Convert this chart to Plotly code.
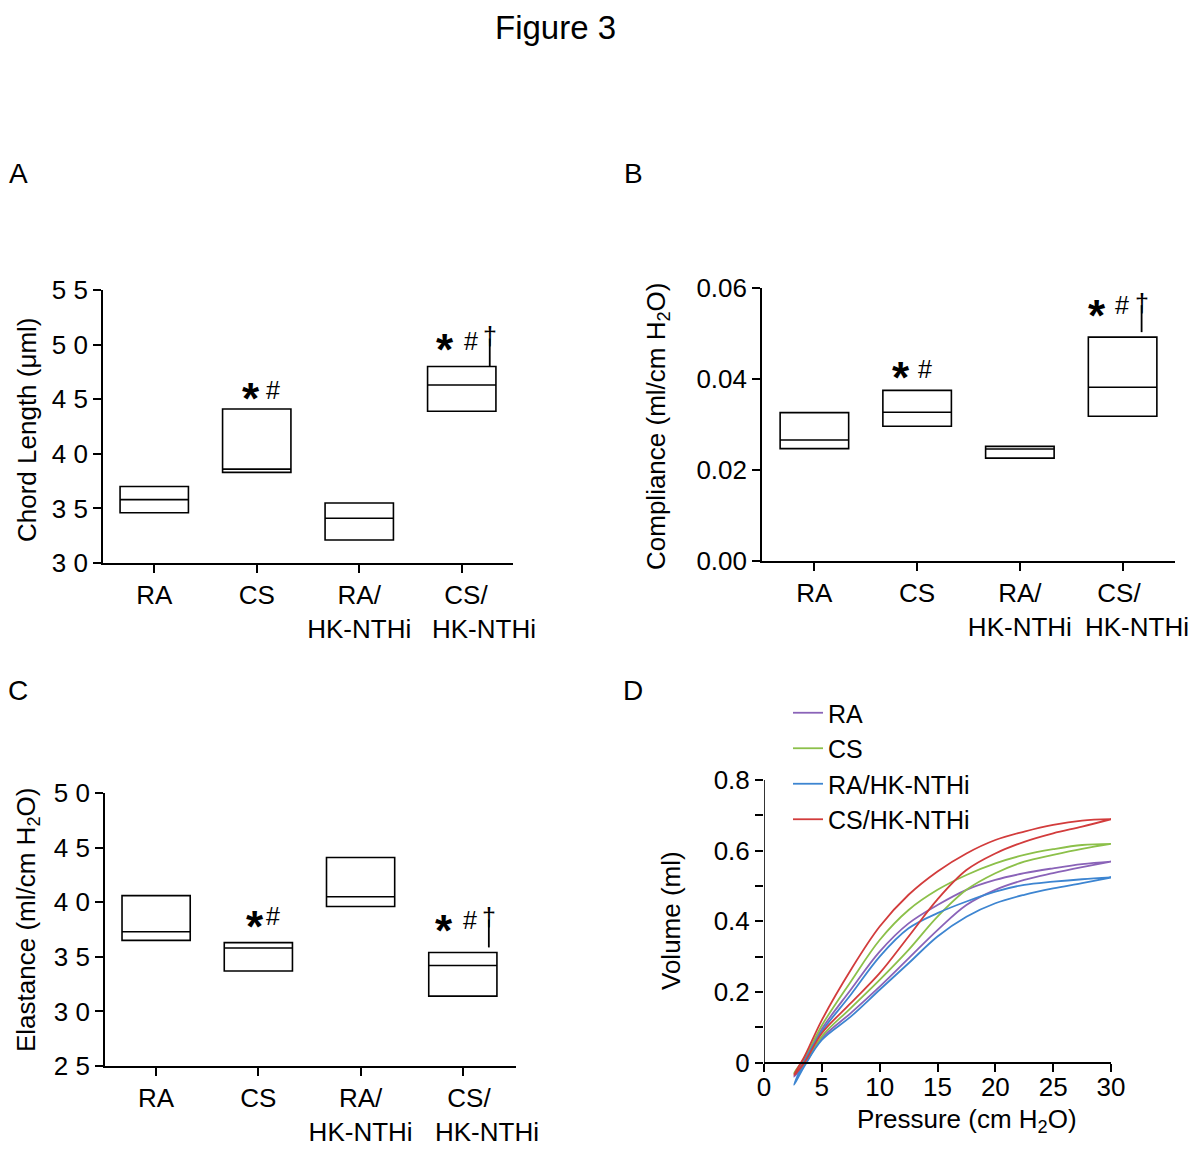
import plotly.graph_objects as go

# ---------------- data ----------------
groups = ["RA", "CS", "RA/HK-NTHi", "CS/HK-NTHi"]
group_line1 = ["RA", "CS", "RA/", "CS/"]
group_line2 = ["", "", "HK-NTHi", "HK-NTHi"]

# Panel A: chord length (q1, median, q3)
chord_q1 = [34.6, 38.3, 32.1, 43.9]
chord_med = [35.8, 38.6, 34.1, 46.3]
chord_q3 = [37.0, 44.1, 35.5, 48.0]
chord_ticks = [30, 35, 40, 45, 50, 55]
chord_ticktext = ["3 0", "3 5", "4 0", "4 5", "5 0", "5 5"]

# Panel B: compliance
comp_q1 = [0.0247, 0.0296, 0.0226, 0.0318]
comp_med = [0.0266, 0.0327, 0.0246, 0.0382]
comp_q3 = [0.0326, 0.0375, 0.0252, 0.0492]
comp_ticks = [0.0, 0.02, 0.04, 0.06]
comp_ticktext = ["0.00", "0.02", "0.04", "0.06"]

# Panel C: elastance
elast_q1 = [36.5, 33.7, 39.6, 31.4]
elast_med = [37.3, 35.8, 40.5, 34.2]
elast_q3 = [40.6, 36.3, 44.1, 35.4]
elast_ticks = [25, 30, 35, 40, 45, 50]
elast_ticktext = ["2 5", "3 0", "3 5", "4 0", "4 5", "5 0"]

# significance marks per group index
sig_A = {1: "*#", 3: "*#†"}
sig_B = {1: "*#", 3: "*#†"}
sig_C = {1: "*#", 3: "*#†"}

# Panel D: pressure-volume loops (inflation limb, deflation limb)
pressure = [2.6, 3.5, 5.0, 7.5, 10.0, 12.5, 15.0, 17.5, 20.0, 22.5, 25.0, 27.5, 30.0]
RA_infl = [-0.040, -0.005, 0.069, 0.140, 0.215, 0.295, 0.375, 0.446, 0.489, 0.517, 0.536, 0.553, 0.569]
RA_defl = [-0.040, 0.008, 0.095, 0.206, 0.314, 0.394, 0.446, 0.489, 0.517, 0.536, 0.550, 0.562, 0.569]
CS_infl = [-0.030, -0.005, 0.074, 0.154, 0.234, 0.319, 0.413, 0.489, 0.536, 0.569, 0.588, 0.605, 0.619]
CS_defl = [-0.030, 0.012, 0.105, 0.229, 0.347, 0.432, 0.489, 0.531, 0.564, 0.588, 0.604, 0.616, 0.619]
RAHK_infl = [-0.063, -0.010, 0.064, 0.130, 0.206, 0.281, 0.357, 0.413, 0.451, 0.475, 0.493, 0.508, 0.524]
RAHK_defl = [-0.063, 0.005, 0.088, 0.192, 0.300, 0.380, 0.423, 0.456, 0.484, 0.503, 0.512, 0.519, 0.524]
CSHK_infl = [-0.035, 0.000, 0.083, 0.168, 0.253, 0.357, 0.462, 0.545, 0.592, 0.625, 0.649, 0.668, 0.689]
CSHK_defl = [-0.035, 0.017, 0.120, 0.262, 0.385, 0.475, 0.541, 0.592, 0.630, 0.654, 0.673, 0.685, 0.689]
pv_series = [
    ("RA", RA_infl, RA_defl, "#8A63B8"),
    ("CS", CS_infl, CS_defl, "#8CC04A"),
    ("RA/HK-NTHi", RAHK_infl, RAHK_defl, "#3D85D1"),
    ("CS/HK-NTHi", CSHK_infl, CSHK_defl, "#D23C3C"),
]
vol_ticks = [0, 0.2, 0.4, 0.6, 0.8]
vol_ticktext = ["0", "0.2", "0.4", "0.6", "0.8"]
vol_minor = [0.1, 0.3, 0.5, 0.7]
pres_ticks = [0, 5, 10, 15, 20, 25, 30]

# ---------------- layout helpers ----------------
PAGE_OFF = 8                     # default body margin of the html page
W, H = 1200 - PAGE_OFF, 1150 - PAGE_OFF
FONT = "Liberation Sans, Arial, Helvetica, sans-serif"
FS = 26
NB = "\u00a0"


def px_x(p):
    return (p - PAGE_OFF) / W


def px_y(p):
    return 1 - (p - PAGE_OFF) / H


# the last category label sits right of its tick -> drawn as an annotation
shifted_idx = 3
first_line_pad = 5               # trailing nbsp on "CS/" so it sits left of "HK-NTHi" centre
label_shift = {"x": 22, "x2": 14, "x3": 24}   # px right of tick

fig = go.Figure()
xs = list(range(len(groups)))
label_vals = [i for i in xs if i != shifted_idx]
label_text = [group_line1[i] + ("<br>" + group_line2[i] if group_line2[i] else "")
              for i in label_vals]


def add_boxes(q1, med, q3, xa, ya):
    fig.add_trace(go.Box(
        x=xs, q1=q1, median=med, q3=q3, lowerfence=q1, upperfence=q3,
        width=0.667, whiskerwidth=0, fillcolor="white",
        line=dict(color="black", width=1.6), boxpoints=False,
        xaxis=xa, yaxis=ya, showlegend=False, hoverinfo="skip"))


add_boxes(chord_q1, chord_med, chord_q3, "x", "y")
add_boxes(comp_q1, comp_med, comp_q3, "x2", "y2")
add_boxes(elast_q1, elast_med, elast_q3, "x3", "y3")

for name, infl, defl, col in pv_series:
    fig.add_trace(go.Scatter(
        x=pressure + pressure[::-1], y=infl + defl[::-1], mode="lines",
        line=dict(color=col, width=1.8), name=name,
        xaxis="x4", yaxis="y4", line_shape="spline"))

axis_common = dict(showgrid=False, zeroline=False, showline=True, linecolor="black",
                   linewidth=1.6, ticks="outside", ticklen=8, tickwidth=1.6,
                   tickcolor="black", automargin=False, tickangle=0,
                   ticklabeloverflow="allow",
                   tickfont=dict(family=FONT, size=FS, color="black"))
minor_common = dict(ticks="outside", ticklen=8, tickwidth=1.6, tickcolor="black",
                    showgrid=False)

cat_axis = dict(axis_common, tickmode="array", tickvals=label_vals, ticktext=label_text,
                minor=dict(minor_common, tickvals=xs))

fig.update_layout(
    template="none",
    width=W, height=H, margin=dict(l=0, r=0, t=0, b=0, autoexpand=False),
    paper_bgcolor="white", plot_bgcolor="white",
    font=dict(family=FONT, size=FS, color="black"),
    xaxis=dict(cat_axis, domain=[px_x(103), px_x(513)], range=[-0.5, 3.5], anchor="y"),
    yaxis=dict(axis_common, domain=[px_y(563), px_y(290)], range=[30, 55], anchor="x",
               tickmode="array", tickvals=chord_ticks, ticktext=chord_ticktext),
    xaxis2=dict(cat_axis, domain=[px_x(762), px_x(1175)], range=[-0.51, 3.51], anchor="y2"),
    yaxis2=dict(axis_common, domain=[px_y(561), px_y(288)], range=[0, 0.06], anchor="x2",
                tickmode="array", tickvals=comp_ticks, ticktext=comp_ticktext),
    xaxis3=dict(cat_axis, domain=[px_x(105), px_x(516)], range=[-0.5, 3.52], anchor="y3"),
    yaxis3=dict(axis_common, domain=[px_y(1066), px_y(793)], range=[25, 50], anchor="x3",
                tickmode="array", tickvals=elast_ticks, ticktext=elast_ticktext),
    xaxis4=dict(axis_common, domain=[px_x(764), px_x(1111)], range=[0, 30],
                anchor="free", position=px_y(1062.7), ticklabelstandoff=-7,
                tickmode="array", tickvals=pres_ticks),
    yaxis4=dict(axis_common, domain=[px_y(1089), px_y(780)], range=[-0.075, 0.8],
                anchor="x4", showline=False,
                tickmode="array", tickvals=vol_ticks, ticktext=vol_ticktext,
                minor=dict(minor_common, tickvals=vol_minor)),
    legend=dict(x=px_x(788), y=px_y(690), xanchor="left", yanchor="top",
                font=dict(family=FONT, size=25, color="black"),
                bgcolor="rgba(0,0,0,0)", itemwidth=30, tracegroupgap=0),
    showlegend=True,
)

# y-axis line of panel D from 0 to 0.8
fig.add_shape(type="line", xref="x4", yref="y4", x0=0, x1=0, y0=0, y1=0.8,
              line=dict(color="black", width=1.6))

annotations = []

# shifted category labels, as real text placed below their ticks
for xa, ya in [("x", "y"), ("x2", "y2"), ("x3", "y3")]:
    i = shifted_idx
    annotations.append(dict(
        x=i, y=0, xref=xa, yref=ya + " domain", xanchor="center", yanchor="top",
        xshift=label_shift[xa], yshift=-15, showarrow=False, align="center",
        text=group_line1[i] + NB * first_line_pad + "<br>" + group_line2[i],
        font=dict(family=FONT, size=FS, color="black")))

# per panel: offsets (x px, centre height px above box top) of the marks
sig_offsets = {
    "A": {"double": {"*": (-6, 16), "#": (16, 19)},
          "triple": {"*": (-17, 22), "#": (9, 25), "†": (28, 40, 0)}},
    "B": {"double": {"*": (-16, 18), "#": (8, 21)},
          "triple": {"*": (-26, 27), "#": (-1, 32), "†": (19, 44, 5)}},
    "C": {"double": {"*": (-3, 21), "#": (15, 27)},
          "triple": {"*": (-19, 27), "#": (7, 32), "†": (26, 45, 5)}},
}


def add_sig(panel, sig, q3, xa, ya):
    for gi, marks in sig.items():
        top = q3[gi]
        offs = sig_offsets[panel]["triple" if "†" in marks else "double"]
        for m in marks:
            if m == "*":
                dx, dy = offs["*"]
                annotations.append(dict(x=gi, y=top, xref=xa, yref=ya, text="<b>*</b>",
                                        showarrow=False, xshift=dx, yshift=dy - 5,
                                        font=dict(family=FONT, size=44, color="black")))
            elif m == "#":
                dx, dy = offs["#"]
                annotations.append(dict(x=gi, y=top, xref=xa, yref=ya, text="#",
                                        showarrow=False, xshift=dx, yshift=dy,
                                        font=dict(family=FONT, size=25, color="black")))
            elif m == "†":
                dx, dtop, gap = offs["†"]
                annotations.append(dict(x=gi, y=top, xref=xa, yref=ya, text="†",
                                        showarrow=False, xshift=dx, yshift=dtop - 10,
                                        font=dict(family=FONT, size=25, color="black")))
                fig.add_shape(type="line", xref=xa, yref=ya, xsizemode="pixel",
                              ysizemode="pixel", xanchor=gi, yanchor=top,
                              x0=dx, x1=dx, y0=gap, y1=dtop - 12,
                              line=dict(color="black", width=1.8))


add_sig("A", sig_A, chord_q3, "x", "y")
add_sig("B", sig_B, comp_q3, "x2", "y2")
add_sig("C", sig_C, elast_q3, "x3", "y3")


# titles and panel letters
def paper_text(text, x, y, size=FS, angle=0, height=None):
    d = dict(text=text, x=px_x(x), y=px_y(y), xref="paper", yref="paper",
             showarrow=False, xanchor="center", yanchor="middle",
             textangle=angle, font=dict(family=FONT, size=size, color="black"))
    if height:
        d["height"] = height
    annotations.append(d)


paper_text("Figure 3", 555, 27, size=33, height=38)
paper_text("A", 18, 174, size=28)
paper_text("B", 633, 174, size=28)
paper_text("C", 18, 690, size=28)
paper_text("D", 633, 690, size=28)
paper_text("Chord Length (μml)", 27, 430, angle=-90)
paper_text("Compliance (ml/cm H<sub>2</sub>O)", 657, 426, angle=-90)
paper_text("Elastance (ml/cm H<sub>2</sub>O)", 28, 920, angle=-90)
paper_text("Volume (ml)", 671, 921, angle=-90)
paper_text("Pressure (cm H<sub>2</sub>O)", 967, 1120)

fig.update_layout(annotations=annotations)
fig.write_html("out.html")
